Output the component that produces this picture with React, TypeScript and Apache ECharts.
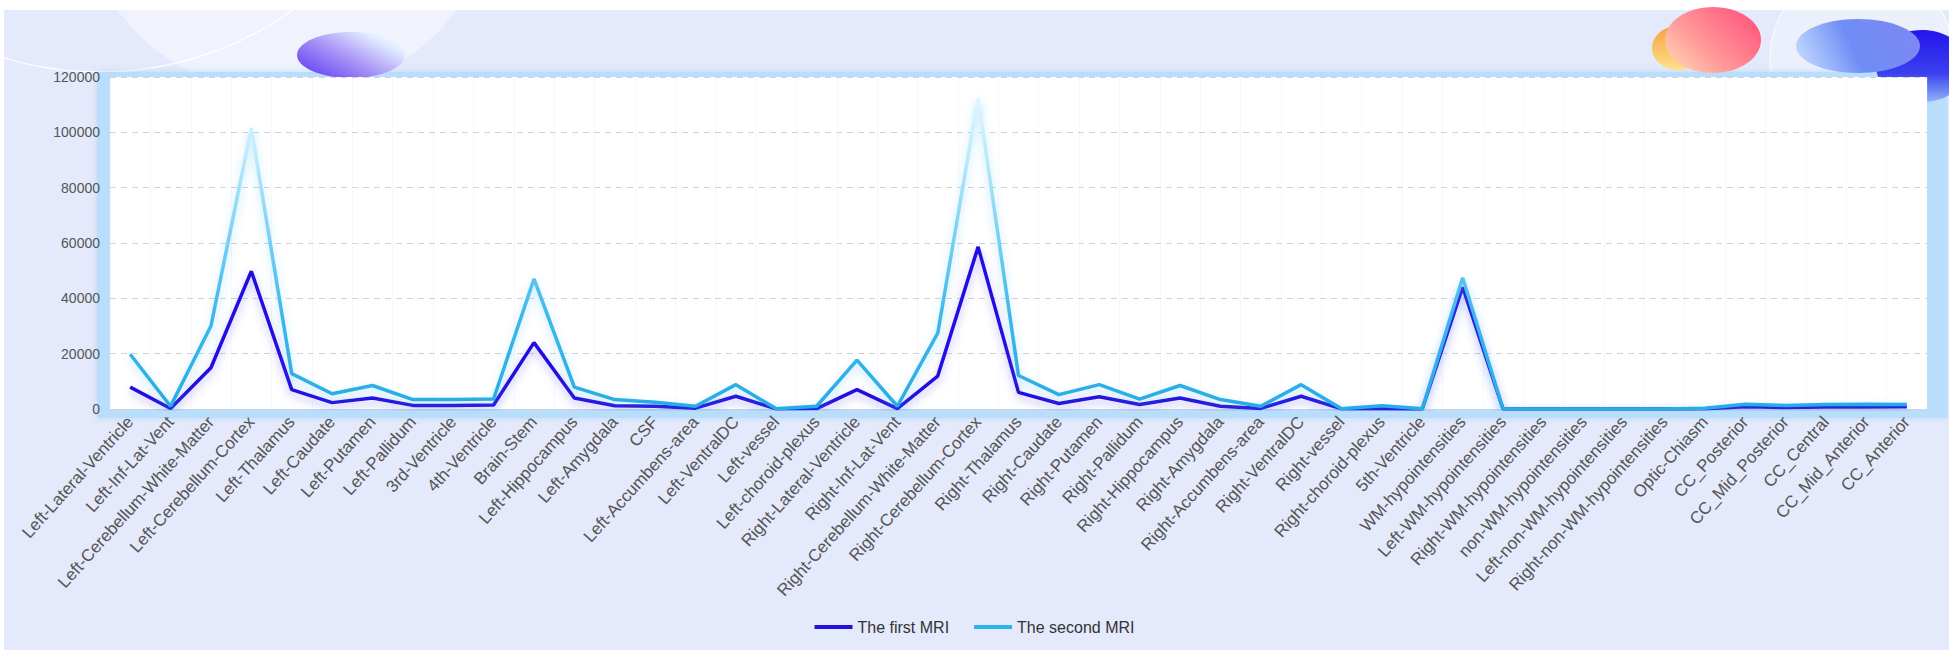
import React, { useEffect, useRef } from "react";
import * as echarts from "echarts";

const categories = [
  "Left-Lateral-Ventricle", "Left-Inf-Lat-Vent", "Left-Cerebellum-White-Matter", "Left-Cerebellum-Cortex",
  "Left-Thalamus", "Left-Caudate", "Left-Putamen", "Left-Pallidum", "3rd-Ventricle", "4th-Ventricle",
  "Brain-Stem", "Left-Hippocampus", "Left-Amygdala", "CSF", "Left-Accumbens-area", "Left-VentralDC",
  "Left-vessel", "Left-choroid-plexus", "Right-Lateral-Ventricle", "Right-Inf-Lat-Vent",
  "Right-Cerebellum-White-Matter", "Right-Cerebellum-Cortex", "Right-Thalamus", "Right-Caudate",
  "Right-Putamen", "Right-Pallidum", "Right-Hippocampus", "Right-Amygdala", "Right-Accumbens-area",
  "Right-VentralDC", "Right-vessel", "Right-choroid-plexus", "5th-Ventricle", "WM-hypointensities",
  "Left-WM-hypointensities", "Right-WM-hypointensities", "non-WM-hypointensities",
  "Left-non-WM-hypointensities", "Right-non-WM-hypointensities", "Optic-Chiasm", "CC_Posterior",
  "CC_Mid_Posterior", "CC_Central", "CC_Mid_Anterior", "CC_Anterior",
];

const firstMRI = [
  7900, 200, 14900, 49800, 7000, 2300, 4000, 1300, 1300, 1450,
  24000, 4000, 1200, 1000, 300, 4600, 50, 150, 7000, 150,
  11900, 58600, 6000, 2000, 4400, 1600, 4000, 1000, 200, 4600,
  50, 100, 0, 44000, 0, 0, 0, 0, 0, 100,
  800, 500, 700, 700, 800,
];

const secondMRI = [
  19800, 1000, 30000, 101500, 12800, 5500, 8500, 3400, 3400, 3600,
  47000, 7900, 3400, 2400, 1000, 8800, 100, 1000, 17700, 1000,
  27400, 112500, 12100, 5200, 8800, 3600, 8500, 3400, 1000, 8800,
  100, 1200, 100, 47400, 0, 0, 0, 0, 0, 300,
  1700, 1300, 1600, 1700, 1600,
];

const seriesNames = ["The first MRI", "The second MRI"];
const yMin = 0;
const yMax = 120000;
const yInterval = 20000;

export default function App() {
  const ref = useRef<HTMLDivElement>(null);

  useEffect(() => {
    if (!ref.current) return;
    const chart = echarts.init(ref.current, null, { renderer: "svg" });
    const font = '"Liberation Sans", Arial, Helvetica, sans-serif';
    const LG = echarts.graphic.LinearGradient;

    chart.setOption({
      animation: false,
      backgroundColor: "#ffffff",
      textStyle: { fontFamily: font },
      graphic: {
        elements: [
          { type: "rect", z: -10, silent: true, shape: { x: 4, y: 10, width: 1945, height: 640 }, style: { fill: "#e4e9fb" } },
          { type: "circle", z: -9, silent: true, shape: { cx: 287, cy: -117, r: 212 }, style: { fill: "rgba(255,255,255,0.45)" } },
          { type: "circle", z: -9, silent: true, shape: { cx: 100, cy: -259, r: 331 }, style: { fill: "none", stroke: "rgba(255,255,255,0.85)", lineWidth: 1.5 } },
          { type: "circle", z: -9, silent: true, shape: { cx: 1862, cy: 58, r: 92 }, style: { fill: "rgba(255,255,255,0.3)", stroke: "rgba(255,255,255,0.8)", lineWidth: 1.2 } },
          {
            type: "rect", z: -8, silent: true, shape: { x: 97, y: 72, width: 1850, height: 346 },
            style: { fill: "#b9defb", shadowBlur: 6, shadowColor: "rgba(170,210,250,0.7)" },
          },
          {
            type: "ellipse", z: -6, silent: true, shape: { cx: 351, cy: 55, rx: 54, ry: 23 },
            style: {
              fill: new LG(0, 0.9, 1, 0.1, [
                { offset: 0, color: "#5f3cf0" },
                { offset: 0.45, color: "#a894f7" },
                { offset: 0.8, color: "#dfe9ff" },
                { offset: 1, color: "#ffffff" },
              ]),
            },
          },
          {
            type: "ellipse", z: -6, silent: true, shape: { cx: 1678, cy: 48, rx: 26, ry: 22 },
            style: { fill: new LG(0, 0, 0, 1, [{ offset: 0, color: "#f6a23e" }, { offset: 1, color: "#ffe08a" }]) },
          },
          {
            type: "ellipse", z: -5, silent: true, shape: { cx: 1713, cy: 40, rx: 48, ry: 33 },
            style: {
              fill: new LG(1, 0.3, 0, 1, [
                { offset: 0, color: "#ff5a7e" },
                { offset: 0.55, color: "#ff9a9a" },
                { offset: 1, color: "#ffe0b8" },
              ]),
            },
          },
          {
            type: "ellipse", z: -5, silent: true, shape: { cx: 1922, cy: 66, rx: 46, ry: 36 },
            style: { fill: new LG(0, 0, 0, 1, [{ offset: 0, color: "#2414ea" }, { offset: 0.6, color: "#3a40ee" }, { offset: 1, color: "#8fb4f8" }]) },
          },
          {
            type: "ellipse", z: -4, silent: true, shape: { cx: 1858, cy: 46, rx: 62, ry: 27 },
            style: {
              fill: new LG(0, 0.6, 1, 0.4, [
                { offset: 0, color: "rgba(185,210,255,0.9)" },
                { offset: 0.45, color: "#6f8df6" },
                { offset: 1, color: "#7d88f2" },
              ]),
            },
          },
        ],
      },
      grid: {
        left: 110, right: 22, top: 77, bottom: 252,
        show: true, backgroundColor: "#ffffff", borderWidth: 0,
      },
      legend: {
        top: 614,
        left: "center",
        icon: "rect",
        itemWidth: 38,
        itemHeight: 4,
        itemGap: 25,
        textStyle: { fontSize: 16, color: "#333333", fontFamily: font },
        data: [
          { name: seriesNames[0], itemStyle: { color: "#2410e0" } },
          { name: seriesNames[1], itemStyle: { color: "#2cb3e8" } },
        ],
      },
      xAxis: {
        type: "category",
        data: categories,
        boundaryGap: true,
        axisLine: { show: false },
        axisTick: { show: false },
        axisLabel: { interval: 0, rotate: 48, fontSize: 17, color: "#555555", margin: 10, fontFamily: font },
        splitLine: { show: true, interval: 0, lineStyle: { color: "rgba(205,215,230,0.35)", type: "dotted", width: 1 } },
      },
      yAxis: {
        type: "value",
        min: yMin,
        max: yMax,
        interval: yInterval,
        axisLine: { show: false },
        axisTick: { show: false },
        axisLabel: {
          fontSize: 14, color: "#555555", margin: 10, fontFamily: font,
          formatter: (v: number) => String(v),
        },
        splitLine: { lineStyle: { type: [6, 5], color: "#d2d2d2", width: 1 } },
      },
      series: [
        {
          name: seriesNames[0],
          type: "line",
          data: firstMRI,
          symbol: "none",
          itemStyle: { color: "#2410e0" },
          lineStyle: {
            width: 3.5, color: "#2410e0",
            shadowColor: "rgba(110,90,240,0.45)", shadowBlur: 8, shadowOffsetY: 4,
          },
        },
        {
          name: seriesNames[1],
          type: "line",
          data: secondMRI,
          symbol: "none",
          itemStyle: { color: "#2cb3e8" },
          lineStyle: {
            width: 3.5,
            color: new LG(0, 0, 0, 1, [
              { offset: 0, color: "#e0f7ff" },
              { offset: 0.2, color: "#b8e9fb" },
              { offset: 0.5, color: "#6ccbf2" },
              { offset: 0.7, color: "#3db7ea" },
              { offset: 1, color: "#27ace6" },
            ]),
            shadowColor: "rgba(80,190,240,0.4)", shadowBlur: 8, shadowOffsetY: 4,
          },
        },
      ],
    });

    return () => chart.dispose();
  }, []);

  return (
    <div
      ref={ref}
      style={{ position: "fixed", left: 0, top: 0, width: "1949px", height: "661px" }}
    />
  );
}
